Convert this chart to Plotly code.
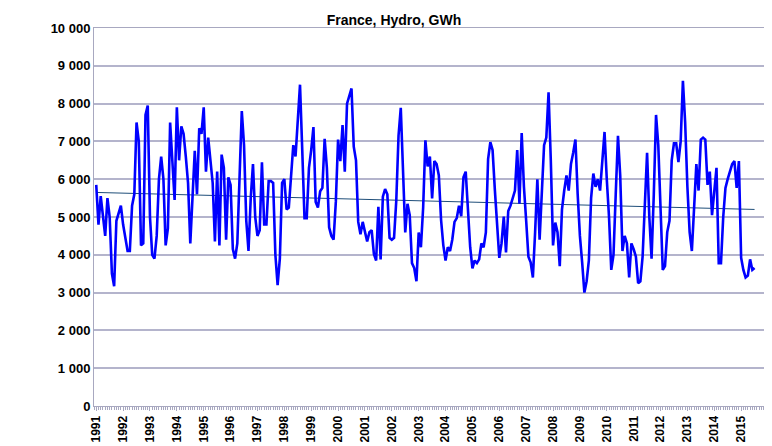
import numpy as np
import plotly.graph_objects as go

# France hydro production, GWh, monthly from Jan 1991
hydro_1991_1998 = [
    5850, 4800, 5550, 5100, 4500, 5500, 5000, 3500, 3170, 4900, 5100, 5300,
    4800, 4400, 4100, 4100, 5300, 5600, 7500, 7000, 4250, 4300, 7700, 7950,
    5000, 4000, 3900, 4500, 6000, 6600, 6000, 4250, 4700, 7500, 6400, 5450,
    7900, 6500, 7400, 7200, 6600, 5900, 4300, 5500, 6750, 5600, 7350, 7200,
    7900, 6200, 7100, 6500, 5900, 4350, 6200, 4250, 6650, 6300, 4400, 6050,
    5850, 4150, 3900, 4300, 6200, 7800, 6900, 4900, 4100, 5500, 6400, 5000,
    4500, 4650, 6450, 4800, 4800, 5950, 5950, 5900, 4000, 3200, 3900, 5900,
    6000, 5200, 5250, 6200, 6900, 6600, 7500, 8500,
]
hydro_1999_2007 = [
    6770, 4970, 4970, 6300, 6770, 7380, 5400, 5250, 5680, 5770, 7070, 6300,
    4730, 4500, 4400, 5400, 7050, 6480, 7430, 6200, 8000, 8200, 8400, 6860,
    6500, 4870, 4540, 4870, 4600, 4350, 4600, 4650, 4020, 3850, 5270, 3880,
    5540, 5740, 5600, 4450, 4400, 4450, 5440, 7150, 7890, 6300, 4590, 5350,
    5050, 3780, 3650, 3300, 4590, 4200, 5250, 7030, 6340, 6600, 5490, 6480,
    6400, 6100, 4920, 4250, 3850, 4200, 4100, 4400, 4870, 4970, 5300, 5020,
    6050, 6200, 5060, 4200, 3640, 3850, 3780, 3880, 4300, 4200, 4590, 6530,
    6980, 6770, 5730, 4780, 3920, 4300, 5010, 4060, 5160, 5300, 5500, 5700,
    6770, 5350, 7220,
]
hydro_2007_2015 = [
    5800, 4900, 3950, 3800, 3400, 4600, 6000, 4400, 5600, 6900, 7100, 8300,
    6500, 4250, 4850, 4600, 3700, 5200, 5700, 6100, 5700, 6400, 6700, 7050,
    5600, 4500, 3800, 3000, 3300, 3850, 5500, 6150, 5800, 6000, 5700, 6400,
    7250, 6000, 5000, 3600, 4000, 5600, 7150, 6100, 4100, 4500, 4300, 3400,
    4300, 4150, 3950, 3250, 3300, 3950, 5500, 6700, 5000, 3900, 5600, 7700,
    6900, 5000, 3600, 3700, 4600, 4900, 6500, 6950, 6950, 6450, 7000, 8600,
    7500, 5800, 4600, 4100, 5200, 6400, 5700, 7050, 7100, 7050, 5850, 6200,
    5050, 5800, 6300, 3780, 3780, 5000, 5770, 6000, 6200, 6400, 6480, 5770,
    6480, 3920, 3600, 3400, 3450, 3880, 3600, 3650,
]
hydro = np.array(hydro_1991_1998 + hydro_1999_2007 + hydro_2007_2015, dtype=float)
years = list(range(1991, 2016))

months = np.arange(len(hydro))
slope, intercept = np.polyfit(months, hydro, 1)
trend = slope * months + intercept

fig = go.Figure()
fig.add_trace(go.Scatter(x=months, y=trend, mode="lines",
                         line=dict(color="#1f4e79", width=1)))
fig.add_trace(go.Scatter(x=months, y=hydro, mode="lines",
                         line=dict(color="#0000ff", width=2.6)))

fig.update_layout(
    width=772, height=446,
    margin=dict(l=86, r=12, t=20, b=48),
    paper_bgcolor="white", plot_bgcolor="white",
    showlegend=False,
    separators=". ",
    font=dict(family="Liberation Sans, Arial", size=12, color="black"),
    title=dict(text="<b>France, Hydro, GWh</b>", x=0.5, xanchor="center",
               y=0.972, yanchor="middle", font=dict(size=14)),
)
fig.update_xaxes(
    range=[-1, 300],
    tickvals=[12 * i for i in range(len(years))],
    ticktext=[f"<b>{y}</b>" for y in years],
    tickangle=-90,
    tickfont=dict(size=12),
    showgrid=False, zeroline=False,
    showline=True, linecolor="#a8a8c0", linewidth=1, mirror=True,
    ticks="outside", ticklen=4, tickcolor="#a8a8c0",
    minor=dict(dtick=1, ticks="outside", ticklen=3, tickcolor="#a8a8c0"),
)
fig.update_yaxes(
    range=[0, 10000], dtick=1000, tickformat=",d",
    tickfont=dict(size=13),
    tickprefix="<b>", ticksuffix="</b>",
    showgrid=True, gridcolor="#b4b4cc", gridwidth=1.5, zeroline=False,
    showline=True, linecolor="#a8a8c0", linewidth=1, mirror=True,
)

fig.write_html("out.html")
